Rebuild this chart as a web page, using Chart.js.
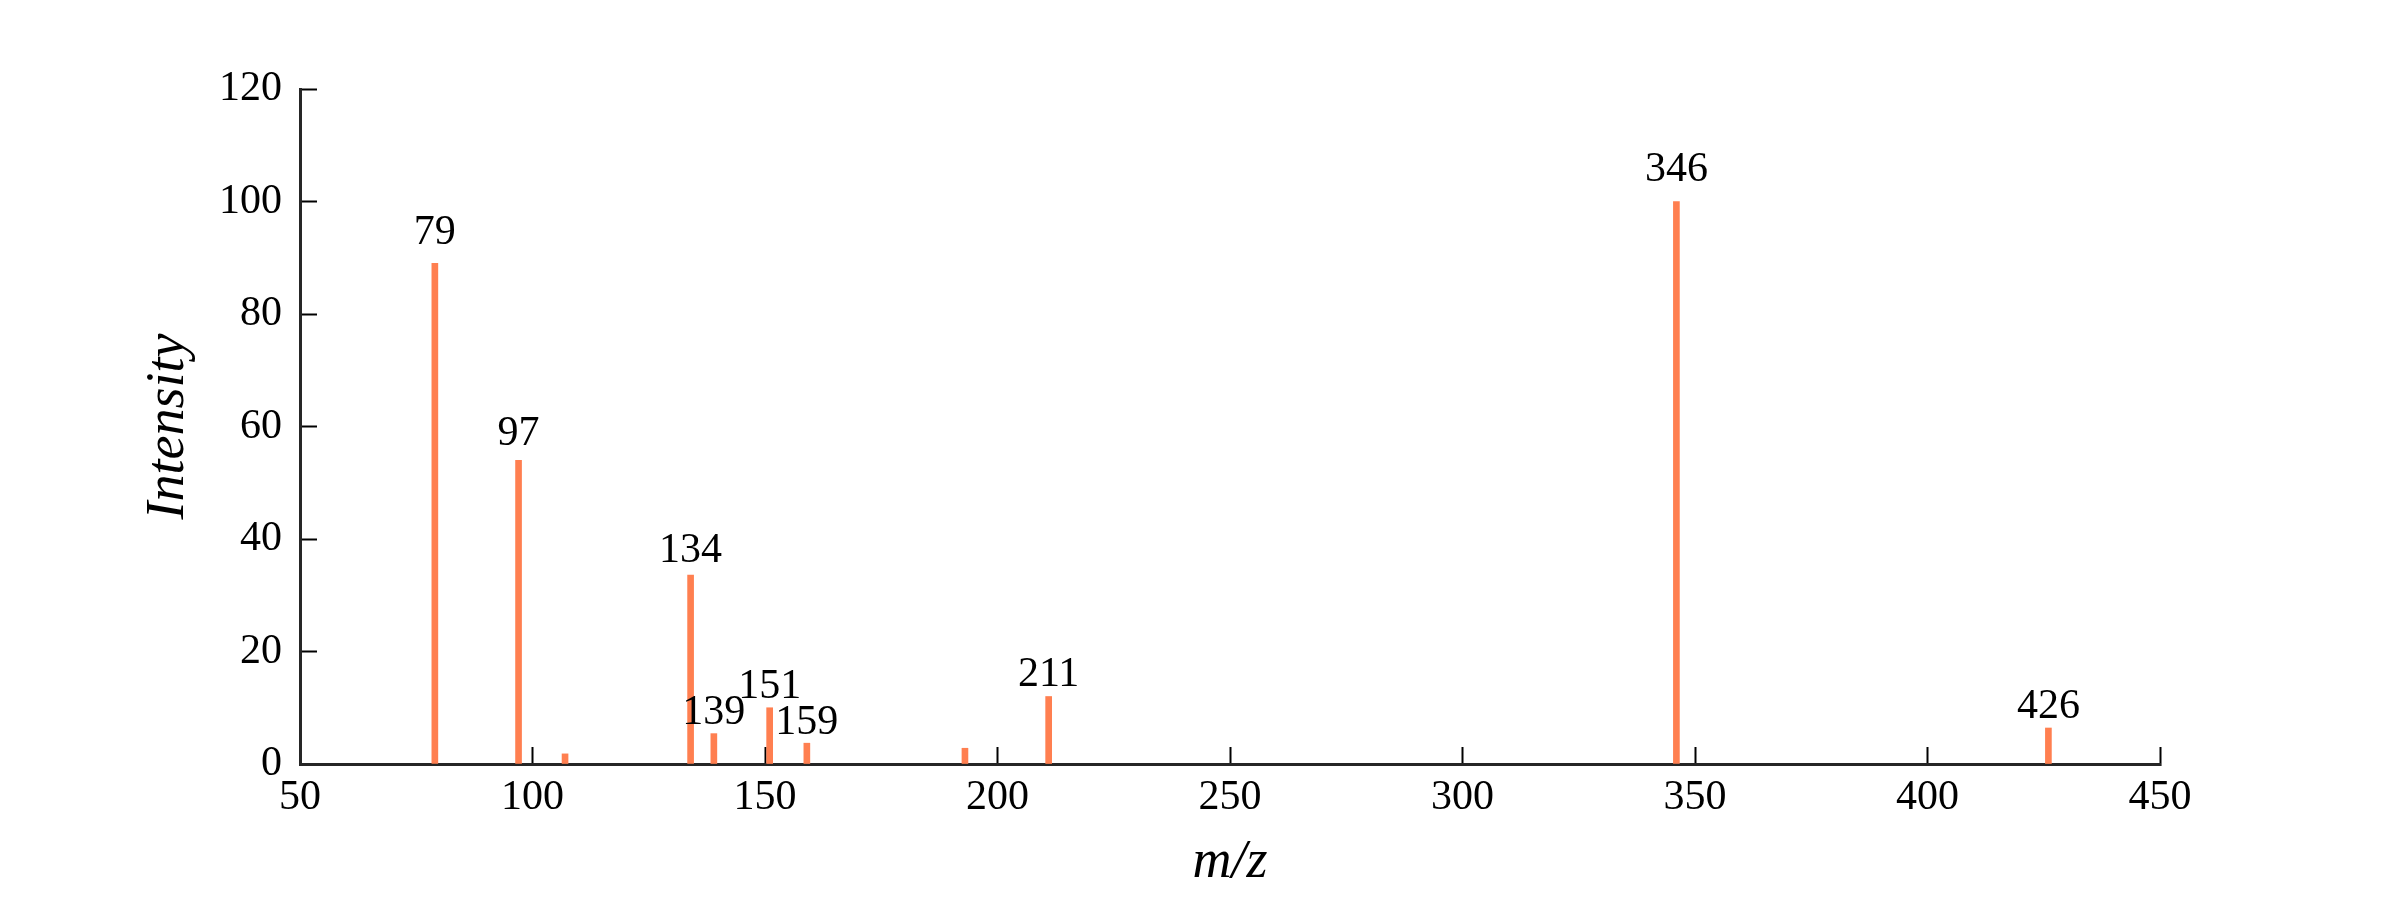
<!DOCTYPE html>
<html>
<head>
<meta charset="utf-8">
<script src="https://cdn.jsdelivr.net/npm/chart.js"></script>
<style>
    body { margin: 0; background: #fff; }
</style>
</head>
<body>
<canvas id="spectrum-chart" width="2400" height="900"></canvas>
<script>
// peaks of the mass spectrum
var mz = [79, 97, 107, 134, 139, 151, 159, 193, 211, 346, 426];
var intensity = [89, 54, 1.8, 33.6, 5.4, 10, 3.7, 2.8, 12, 100, 6.4];
// only these peaks get a text label
var labeledPeaks = [79, 97, 134, 139, 151, 159, 211, 346, 426];
var xTicks = [50, 100, 150, 200, 250, 300, 350, 400, 450];
var yTicks = [0, 20, 40, 60, 80, 100, 120];

var serif = '"Liberation Serif", "DejaVu Serif", serif';

var points = [];
for (var i = 0; i < mz.length; i++) {
    points.push({ x: mz[i], y: intensity[i] });
}

// writes the m/z value above the labelled peaks
var peakLabels = {
    id: 'peakLabels',
    afterDatasetsDraw: function (chart) {
        var ctx = chart.ctx;
        var xs = chart.scales.x;
        var ys = chart.scales.y;
        ctx.save();
        ctx.font = '42px ' + serif;
        ctx.fillStyle = '#000';
        ctx.textAlign = 'center';
        ctx.textBaseline = 'alphabetic';
        for (var i = 0; i < mz.length; i++) {
            if (labeledPeaks.indexOf(mz[i]) < 0) continue;
            var px = xs.getPixelForValue(mz[i]);
            var py = ys.getPixelForValue(intensity[i] * 1.02) - 9;
            ctx.fillText(String(mz[i]), px, py);
        }
        ctx.restore();
    }
};

var ctx = document.getElementById('spectrum-chart').getContext('2d');
var myChart = new Chart(ctx, {
    type: 'bar',
    data: {
        datasets: [
            {
                label: 'Intensity',
                data: points,
                backgroundColor: '#FF7F50',
                barThickness: 6
            }
        ]
    },
    options: {
        responsive: false,
        animation: false,
        layout: {
            padding: { top: 89, right: 240, bottom: 0, left: 0 }
        },
        plugins: {
            legend: { display: false },
            tooltip: { enabled: false }
        },
        scales: {
            x: {
                type: 'linear',
                offset: false,
                min: 50,
                max: 450,
                afterBuildTicks: function (scale) {
                    scale.ticks = xTicks.map(function (v) { return { value: v }; });
                },
                afterFit: function (scale) {
                    scale.height = 136;
                },
                grid: {
                    offset: false,
                    drawOnChartArea: false,
                    drawTicks: true,
                    tickLength: -17,
                    tickWidth: 2,
                    tickColor: '#000'
                },
                border: { display: true, width: 3, color: '#262626' },
                ticks: {
                    padding: 26,
                    color: '#000',
                    font: { family: serif, size: 42 }
                },
                title: {
                    display: true,
                    text: 'm/z',
                    color: '#000',
                    padding: { top: 0, bottom: 5 },
                    font: { family: serif, size: 54, style: 'italic' }
                }
            },
            y: {
                type: 'linear',
                min: 0,
                max: 120,
                afterBuildTicks: function (scale) {
                    scale.ticks = yTicks.map(function (v) { return { value: v }; });
                },
                afterFit: function (scale) {
                    scale.width = 300;
                },
                grid: {
                    drawOnChartArea: false,
                    drawTicks: true,
                    tickLength: -17,
                    tickWidth: 2,
                    tickColor: '#000'
                },
                border: { display: true, width: 3, color: '#262626' },
                ticks: {
                    padding: 35,
                    color: '#000',
                    font: { family: serif, size: 42 }
                },
                title: {
                    display: true,
                    text: 'Intensity',
                    color: '#000',
                    padding: { top: 136, bottom: 0 },
                    font: { family: serif, size: 54, style: 'italic' }
                }
            }
        }
    },
    plugins: [peakLabels]
});
</script>
</body>
</html>
